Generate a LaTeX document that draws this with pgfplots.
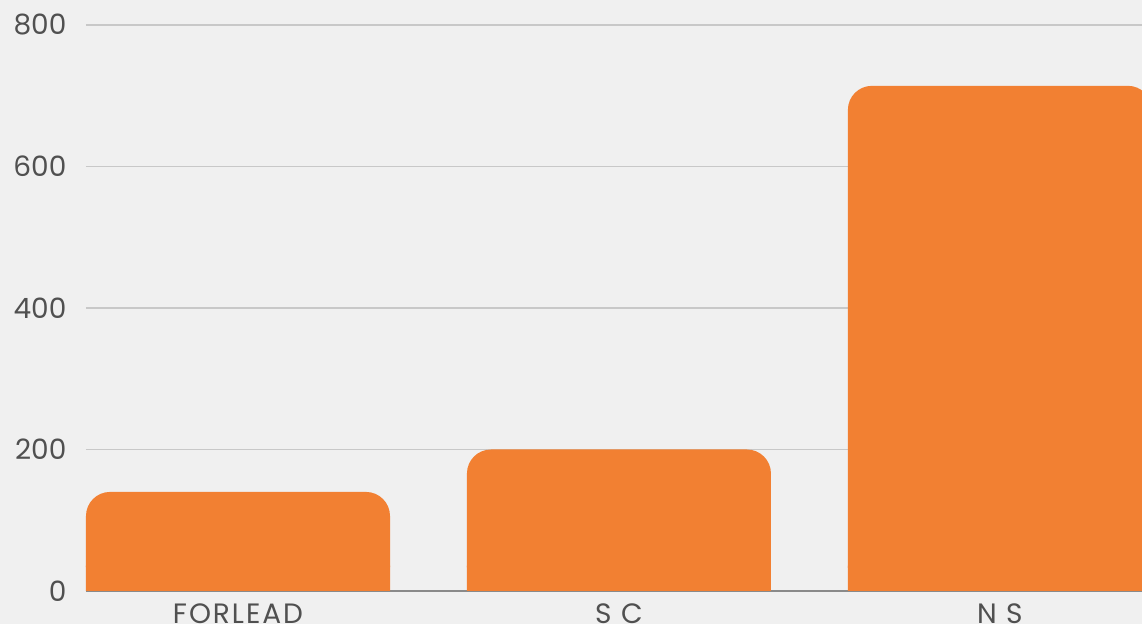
\documentclass[border=0pt]{standalone}
\usepackage{pgfplots}
\pgfplotsset{compat=1.18}
\usepackage{fontspec}
\setmainfont{Poppins}
\usetikzlibrary{backgrounds}
\definecolor{bg}{HTML}{F0F0F0}
\definecolor{barc}{HTML}{F28032}
\definecolor{txt}{HTML}{505050}
\definecolor{gridc}{HTML}{C8C8C8}
\definecolor{basec}{HTML}{8A8A8A}
\begin{document}
\begin{tikzpicture}
\begin{axis}[name=ax, scale only axis, width=792pt, height=424.5pt,
 xmin=-0.399, xmax=2.373, ymin=0, ymax=800,
 ytick={0,200,400,600,800}, xtick={0,1,2}, xticklabels={FORLEAD,S C,N S},
 axis line style={draw=none}, major tick length=0pt, tick style={draw=none},
 ymajorgrids, grid style={gridc, line width=0.9pt},
 extra y ticks={0}, extra y tick labels={}, extra y tick style={grid style={basec,line width=1pt}},
 ticklabel style={font=\fontsize{21}{25}\selectfont, text=txt},
 yticklabel style={inner sep=0pt, xshift=-14.5pt},
 xticklabel style={inner sep=0pt, yshift=-9pt, font=\fontsize{21}{25}\selectfont\addfontfeature{LetterSpace=7}},
 /pgf/number format/assume math mode=true,
 ybar, bar width=228pt,
]
\addplot[fill=barc, draw=none, bar shift=0pt] coordinates {(0,36)(1,36)(2,36)};
\addplot[fill=barc, draw=none, bar shift=0pt, rounded corners=18pt] coordinates {(0,140)(1,200)(2,714)};
\end{axis}
\pgfresetboundingbox
\begin{scope}[on background layer]
\path[use as bounding box, fill=bg] ([shift={(-64.5pt,-24.75pt)}]ax.south west) rectangle ++(856.5pt,468pt);
\end{scope}
\end{tikzpicture}
\end{document}
